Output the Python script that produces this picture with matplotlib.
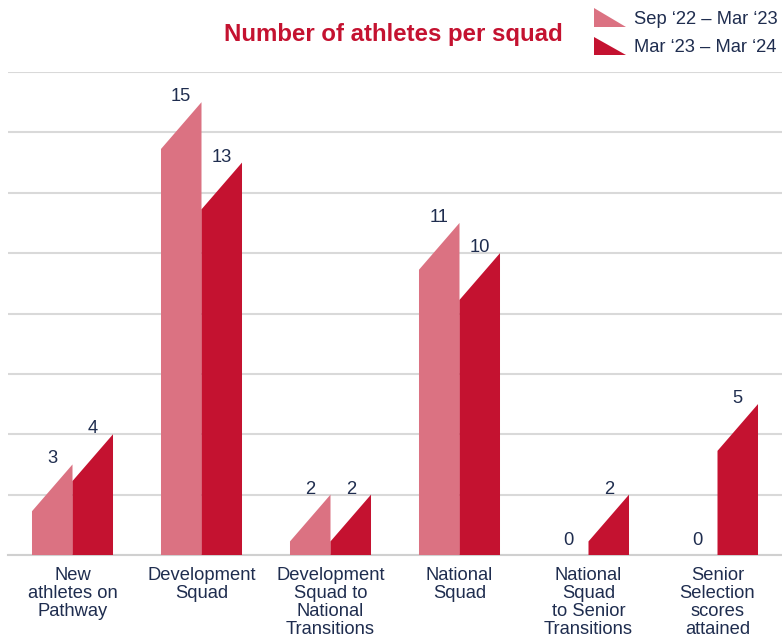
import matplotlib
matplotlib.use("Agg")
import matplotlib.pyplot as plt
import numpy as np
from matplotlib.patches import Polygon
from matplotlib.legend_handler import HandlerPatch

plt.rcParams['font.family'] = ['Liberation Sans', 'DejaVu Sans']

categories = ["New\nathletes on\nPathway", "Development\nSquad",
              "Development\nSquad to\nNational\nTransitions", "National\nSquad",
              "National\nSquad\nto Senior\nTransitions", "Senior\nSelection\nscores\nattained"]
series_names = ["Sep \u201822 \u2013 Mar \u201823", "Mar \u201823 \u2013 Mar \u201824"]
values_a = [3, 15, 2, 11, 0, 0]
values_b = [4, 13, 2, 10, 2, 5]

PINK = "#DB7282"
RED = "#C41230"
NAVY = "#1F2D4F"
GRID = "#D9D9D9"
FS = 13.2

fig = plt.figure(figsize=(7.82, 6.38), dpi=100)
ax = fig.add_axes([8/782, (638-555)/638, 774/782, (555-72)/638])
ax.set_xlim(-0.5, len(categories) - 0.5)
ax.set_ylim(0, 16)

bw = 0.314
slant = 1.55

def draw_bar(xc_left, v, color):
    if v <= 0:
        return
    x0, x1 = xc_left, xc_left + bw
    left_top = max(v - slant, 0)
    poly = Polygon([(x0, 0), (x1, 0), (x1, v), (x0, left_top)], closed=True,
                   facecolor=color, edgecolor='none', zorder=3)
    ax.add_patch(poly)

x = np.arange(len(categories))
for i in range(len(categories)):
    draw_bar(x[i] - bw, values_a[i], PINK)
    draw_bar(x[i], values_b[i], RED)
    for v, xc in ((values_a[i], x[i] - bw / 2), (values_b[i], x[i] + bw / 2)):
        y = v - 0.1 if v > 0 else 0.2
        ax.text(xc, y, str(v), ha='center', va='bottom', fontsize=FS,
                color=NAVY, zorder=4)

ax.set_yticks(np.arange(0, 17, 2))
ax.yaxis.grid(True, color=GRID, linewidth=1.5, zorder=0)
ax.set_axisbelow(True)
ax.tick_params(axis='y', left=False, labelleft=False)
ax.tick_params(axis='x', bottom=False, pad=5)
ax.set_xticks(x)
ax.set_xticklabels(categories, fontsize=FS, color=NAVY, linespacing=1.08, va='top')
for s in ['top', 'right', 'left']:
    ax.spines[s].set_visible(False)
ax.spines['bottom'].set_color("#D0D0D0")
ax.spines['bottom'].set_linewidth(1.5)

fig.text(393.5/782, 1 - 35/638, "Number of athletes per squad", ha='center', va='center',
         fontsize=17.3, fontweight='bold', color=RED)

class TriHandler(HandlerPatch):
    def create_artists(self, legend, orig_handle, xdescent, ydescent, width, height, fontsize, trans):
        p = Polygon([(-xdescent, -ydescent + height), (-xdescent, -ydescent),
                     (-xdescent + width, -ydescent)], closed=True,
                    facecolor=orig_handle.get_facecolor(), edgecolor='none', transform=trans)
        return [p]

h1 = Polygon([[0, 0]], facecolor=PINK)
h2 = Polygon([[0, 0]], facecolor=RED)
leg = fig.legend([h1, h2], series_names, loc='upper left',
                 bbox_to_anchor=(594/782, 1 - 8/638), frameon=False, fontsize=FS,
                 handlelength=1.73, handleheight=1.19, handletextpad=0.43,
                 labelspacing=0.49, borderpad=0, borderaxespad=0,
                 handler_map={Polygon: TriHandler()})
for t in leg.get_texts():
    t.set_color(NAVY)

fig.savefig("out.png", dpi=100)
